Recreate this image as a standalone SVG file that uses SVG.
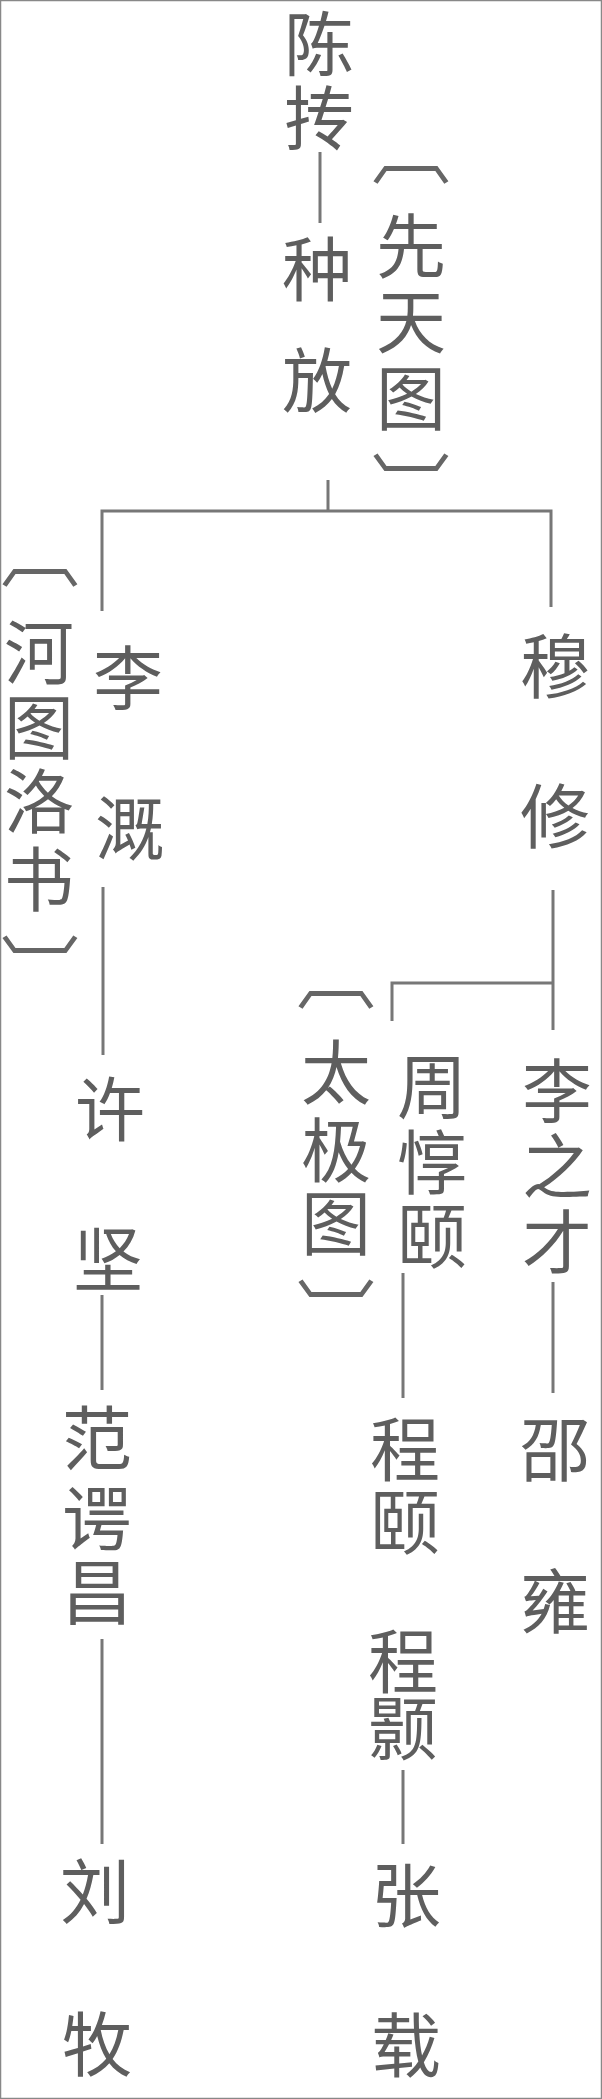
<svg xmlns="http://www.w3.org/2000/svg" width="602" height="2099" viewBox="0 0 602 2099">
<style>
.t{font-family:"Noto Sans CJK SC","Noto Sans CJK JP",sans-serif;font-size:70px;fill:#5e5e5e;text-anchor:middle;dominant-baseline:central}
.b{font-family:"Noto Sans CJK SC","Noto Sans CJK JP",sans-serif;font-size:70px;fill:#666;text-anchor:middle;dominant-baseline:central}
.c{fill:none;stroke:#777;stroke-width:3}
</style>
<rect x="0.5" y="0.5" width="601" height="2098" fill="#fff" stroke="#888" stroke-width="1.5"/>
<g id="connectors" class="c">
<line x1="320" y1="152" x2="320" y2="223"/>
<line x1="328" y1="480" x2="328" y2="511"/>
<path d="M102 611V511H551V607"/>
<line x1="103" y1="887" x2="103" y2="1055"/>
<line x1="102" y1="1295" x2="102" y2="1390"/>
<line x1="102" y1="1639" x2="102" y2="1844"/>
<line x1="553" y1="890" x2="553" y2="1030"/>
<path d="M392 1021V983H553"/>
<line x1="403" y1="1273" x2="403" y2="1398"/>
<line x1="553" y1="1282" x2="553" y2="1393"/>
<line x1="403" y1="1770" x2="403" y2="1844"/>
</g>
<g id="chen-tuan"><text class="t" x="319" y="40">陈</text><text class="t" x="319" y="114">抟</text></g>
<g id="zhong-fang"><text class="t" x="317" y="265">种</text><text class="t" x="317" y="376">放</text></g>
<g id="xiantiantu"><text class="b" transform="translate(411,147) scale(1.12,1)">︹</text><text class="t" x="411" y="242">先</text><text class="t" x="411" y="317">天</text><text class="t" x="411" y="394">图</text><text class="b" transform="translate(411,482) scale(1.12,1)">︺</text></g>
<g id="hetuluoshu"><text class="b" transform="translate(40,550) scale(1.12,1)">︹</text><text class="t" x="39" y="648">河</text><text class="t" x="39" y="723">图</text><text class="t" x="39" y="797">洛</text><text class="t" x="39" y="875">书</text><text class="b" transform="translate(40,964) scale(1.12,1)">︺</text></g>
<g id="li-gai"><text class="t" x="128" y="674">李</text><text class="t" x="130" y="824">溉</text></g>
<g id="xu-jian"><text class="t" x="110" y="1105">许</text><text class="t" x="108" y="1255">坚</text></g>
<g id="fan-echang"><text class="t" x="97" y="1434">范</text><text class="t" x="97" y="1514">谔</text><text class="t" x="97" y="1588">昌</text></g>
<g id="liu-mu"><text class="t" x="95" y="1887">刘</text><text class="t" x="97" y="2040">牧</text></g>
<g id="mu-xiu"><text class="t" x="555" y="662">穆</text><text class="t" x="555" y="812">修</text></g>
<g id="li-zhicai"><text class="t" x="557" y="1087">李</text><text class="t" x="557" y="1162">之</text><text class="t" x="557" y="1238">才</text></g>
<g id="zhou-dunyi"><text class="t" x="432" y="1082">周</text><text class="t" x="432" y="1158">惇</text><text class="t" x="432" y="1232">颐</text></g>
<g id="taijitu"><text class="b" transform="translate(336,972) scale(1.12,1)">︹</text><text class="t" x="336" y="1068">太</text><text class="t" x="336" y="1146">极</text><text class="t" x="336" y="1219">图</text><text class="b" transform="translate(336,1308) scale(1.12,1)">︺</text></g>
<g id="cheng-yi"><text class="t" x="405" y="1445">程</text><text class="t" x="405" y="1518">颐</text></g>
<g id="shao-yong"><text class="t" x="555" y="1445">邵</text><text class="t" x="555" y="1597">雍</text></g>
<g id="cheng-hao"><text class="t" x="403" y="1657">程</text><text class="t" x="403" y="1724">颢</text></g>
<g id="zhang-zai"><text class="t" x="406" y="1891">张</text><text class="t" x="406" y="2041">载</text></g>
</svg>
